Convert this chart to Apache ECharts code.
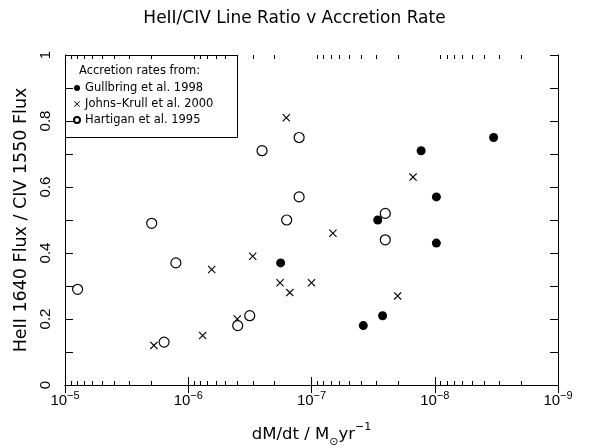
<!DOCTYPE html>
<html>
<head>
<meta charset="utf-8">
<script src="https://cdn.jsdelivr.net/npm/echarts@6.0.0/dist/echarts.min.js"></script>
<style>
  html, body { margin: 0; padding: 0; background: #fff; }
  #chart { width: 589px; height: 448px; }
</style>
</head>
<body>
<div id="chart"></div>
<script>
// accretion rate (Msun/yr) and HeII/CIV ratio
const gullbringX = [1.78e-7, 3.8e-8, 2.65e-8, 2.9e-8, 1.29e-8, 9.7e-9, 9.7e-9, 3.33e-9]
const gullbringY = [0.37, 0.18, 0.21, 0.50, 0.71, 0.57, 0.43, 0.75]

const johnsKrullX = [1.9e-6, 7.64e-7, 6.45e-7, 4.0e-7, 3.0e-7, 1.8e-7, 1.5e-7, 1.6e-7, 1.0e-7, 6.7e-8, 2.0e-8, 1.5e-8]
const johnsKrullY = [0.12, 0.15, 0.35, 0.20, 0.39, 0.31, 0.28, 0.81, 0.31, 0.46, 0.27, 0.63]

const hartiganX = [7.9e-6, 1.98e-6, 1.26e-6, 1.57e-6, 3.97e-7, 3.17e-7, 2.52e-7, 1.59e-7, 1.26e-7, 1.26e-7, 2.52e-8, 2.52e-8]
const hartiganY = [0.29, 0.49, 0.37, 0.13, 0.18, 0.21, 0.71, 0.50, 0.75, 0.57, 0.52, 0.44]

const seriesNames = ['Gullbring et al. 1998', 'Johns\u2013Krull et al. 2000', 'Hartigan et al. 1995']
const yTickLabels = ['0', '0.2', '0.4', '0.6', '0.8', '1']

// minor ticks of the log axis: 2..9 x 10^k
const minorX = []
for (let k = -9; k < -5; k++) {
  for (let m = 2; m <= 9; m++) minorX.push(m * Math.pow(10, k))
}

const FONT = 'DejaVu Sans'
const cross = 'path://M0,1L1,0L5,4L9,0L10,1L6,5L10,9L9,10L5,6L1,10L0,9L4,5Z'

const zip = (xs, ys) => xs.map((x, i) => [x, ys[i]])

const chart = echarts.init(document.getElementById('chart'))

const xAxisBase = {
  type: 'log',
  logBase: 10,
  min: 1e-9,
  max: 1e-5,
  inverse: true,
  z: 12,
  splitLine: { show: false },
  axisLine: { lineStyle: { color: '#000', width: 1 } },
  axisTick: { inside: true, length: 8, lineStyle: { color: '#000' } }
}

const yAxisBase = {
  type: 'value',
  min: 0,
  max: 1,
  interval: 0.2,
  z: 12,
  splitLine: { show: false },
  axisLine: { show: true, lineStyle: { color: '#000', width: 1 } },
  axisTick: { show: true, inside: true, length: 8, lineStyle: { color: '#000' } },
  minorTick: { show: true, splitNumber: 2, length: 8, lineStyle: { color: '#000' } }
}

chart.setOption({
  animation: false,
  backgroundColor: '#fff',
  textStyle: { fontFamily: FONT, color: '#000' },
  title: {
    text: 'HeII/CIV Line Ratio v Accretion Rate',
    left: 'center',
    top: 5,
    textStyle: { fontFamily: FONT, fontSize: 17, fontWeight: 'normal', color: '#000' }
  },
  grid: { left: 65, right: 31, top: 55, bottom: 63, containLabel: false, outerBoundsMode: 'none' },
  legend: {
    orient: 'vertical',
    left: 73,
    top: 82,
    z: 10,
    itemWidth: 6,
    itemHeight: 6,
    itemGap: 4,
    padding: 0,
    textStyle: { fontFamily: FONT, fontSize: 11.5, color: '#000', lineHeight: 12 },
    data: [
      { name: seriesNames[0], icon: 'circle' },
      { name: seriesNames[1], icon: cross },
      { name: seriesNames[2], icon: 'circle' }
    ]
  },
  graphic: [
    {
      type: 'rect',
      shape: { x: 65.5, y: 55.5, width: 172, height: 82 },
      style: { fill: 'none', stroke: '#000', lineWidth: 1 },
      z: 3
    },
    {
      type: 'text',
      left: 79,
      top: 65,
      style: { text: 'Accretion rates from:', fontFamily: FONT, fontSize: 11.5, fill: '#000' },
      z: 11
    }
  ],
  xAxis: [
    {
      ...xAxisBase,
      position: 'bottom',
      name: 'dM/dt / M{sub|\u2299}yr{sup|\u22121}',
      nameLocation: 'middle',
      nameGap: 37,
      nameTextStyle: {
        fontFamily: FONT, fontSize: 16.5, color: '#000', lineHeight: 26,
        rich: {
          sub: { fontFamily: FONT, fontSize: 11, verticalAlign: 'bottom', lineHeight: 11 },
          sup: { fontFamily: FONT, fontSize: 11, verticalAlign: 'top', lineHeight: 11 }
        }
      },
      axisLabel: {
        margin: 5,
        fontFamily: 'Liberation Sans',
        fontSize: 15,
        lineHeight: 22,
        color: '#000',
        formatter: v => '10{s|\u2212' + Math.abs(Math.round(Math.log10(v))) + '}',
        rich: {
          s: { fontFamily: 'Liberation Sans', fontSize: 11, verticalAlign: 'top', lineHeight: 11, color: '#000' }
        }
      }
    },
    {
      ...xAxisBase,
      position: 'top',
      axisLabel: { show: false }
    }
  ],
  yAxis: [
    {
      ...yAxisBase,
      position: 'left',
      name: 'HeII 1640 Flux / CIV 1550 Flux',
      nameLocation: 'middle',
      nameGap: 22,
      nameTextStyle: { fontFamily: FONT, fontSize: 17.5, color: '#000' },
      axisLabel: {
        rotate: 90,
        margin: 12,
        fontFamily: 'Liberation Sans',
        fontSize: 15,
        color: '#000',
        formatter: v => yTickLabels[Math.round(v * 5)]
      }
    },
    {
      ...yAxisBase,
      position: 'right',
      axisLabel: { show: false }
    }
  ],
  series: [
    {
      name: seriesNames[0],
      type: 'scatter',
      symbol: 'circle',
      symbolSize: 9,
      itemStyle: { color: '#000', opacity: 1 },
      data: zip(gullbringX, gullbringY)
    },
    {
      name: seriesNames[1],
      type: 'scatter',
      symbol: cross,
      symbolSize: 8,
      itemStyle: { color: '#000', opacity: 1 },
      data: zip(johnsKrullX, johnsKrullY)
    },
    {
      name: seriesNames[2],
      type: 'scatter',
      symbol: 'circle',
      symbolSize: 10,
      itemStyle: { color: '#fff', borderColor: '#000', borderWidth: 1.2, opacity: 1 },
      data: zip(hartiganX, hartiganY)
    },
    {
      // minor ticks on the bottom and top log axes
      type: 'custom',
      silent: true,
      clip: false,
      z: 12,
      data: minorX.map(v => [v, 0]),
      encode: { x: 0, y: 1 },
      renderItem: (params, api) => {
        const v = api.value(0)
        const b = api.coord([v, 0])
        const t = api.coord([v, 1])
        const x = Math.round(b[0]) + 0.5
        const yb = Math.round(b[1])
        const yt = Math.round(t[1])
        const style = { stroke: '#000', lineWidth: 1 }
        return {
          type: 'group',
          children: [
            { type: 'line', shape: { x1: x, y1: yb, x2: x, y2: yb - 4 }, style },
            { type: 'line', shape: { x1: x, y1: yt, x2: x, y2: yt + 4 }, style }
          ]
        }
      }
    }
  ]
})

window.addEventListener('resize', () => chart.resize())
</script>
</body>
</html>
